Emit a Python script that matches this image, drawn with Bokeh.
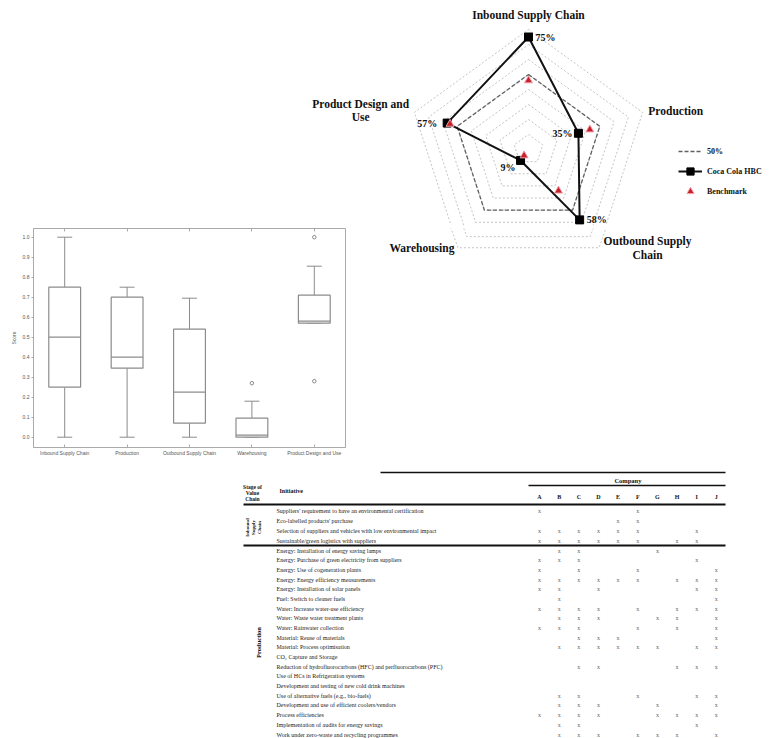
import math
from bokeh.plotting import figure
from bokeh.models import (Range1d, Legend, LegendItem, Spacer, FixedTicker, LinearAxis)
from bokeh.layouts import row, column
from bokeh.core.properties import value
from bokeh.embed import file_html
from bokeh.resources import INLINE

SERIF = "Liberation Serif"

# ---------------- data: radar ----------------
radar_categories = ["Inbound Supply Chain", "Production", "Outbound Supply\nChain",
                    "Warehousing", "Product Design and\nUse"]
coca_cola = [75, 35, 58, 9, 57]
coca_labels = ["75%", "35%", "58%", "9%", "57%"]
benchmark = [46, 43, 34, 5, 55]
threshold = [50, 50, 50, 50, 50]
ring_levels = [10, 20, 30, 40, 50, 60, 70, 80]
legend_labels = ["50%", "Coca Cola HBC", "Benchmark"]

# ---------------- data: box plot ----------------
box_cats = ["Inbound Supply Chain", "Production", "Outbound Supply Chain",
            "Warehousing", "Product Design and Use"]
box_low = [0.0, 0.0, 0.0, 0.0, 0.57]
box_q1 = [0.25, 0.345, 0.07, 0.0, 0.57]
box_median = [0.50, 0.40, 0.225, 0.01, 0.58]
box_q3 = [0.75, 0.70, 0.54, 0.095, 0.71]
box_high = [1.0, 0.75, 0.695, 0.18, 0.855]
outlier_cat = [4, 5, 5]
outlier_val = [0.27, 1.0, 0.28]
box_yticks = [0.0, 0.1, 0.2, 0.3, 0.4, 0.5, 0.6, 0.7, 0.8, 0.9, 1.0]
box_ylabel = "Score"

# ---------------- data: table ----------------
table_cols = ["A", "B", "C", "D", "E", "F", "G", "H", "I", "J"]
inbound_group = ["Inbound", "Supply", "Chain"]
inbound_rows = [
    "Suppliers' requirement to have an environmental certification",
    "Eco-labelled products' purchase",
    "Selection of suppliers and vehicles with low environmental impact",
    "Sustainable/green logistics with suppliers",
]
inbound_marks = ["A F", "E F", "A B C D E F I", "A B C D E F H I"]
production_group = "Production"
production_rows = [
    "Energy: Installation of energy saving lamps",
    "Energy: Purchase of green electricity from suppliers",
    "Energy: Use of cogeneration plants",
    "Energy: Energy efficiency measurements",
    "Energy: Installation of solar panels",
    "Fuel: Switch to cleaner fuels",
    "Water: Increase water-use efficiency",
    "Water: Waste water treatment plants",
    "Water: Rainwater collection",
    "Material: Reuse of materials",
    "Material: Process optimisation",
    "CO\u2082 Capture and Storage",
    "Reduction of hydrofluorocarbons (HFC) and perfluorocarbons (PFC)",
    "Use of HCs in Refrigeration systems",
    "Development and testing of new cold drink machines",
    "Use of alternative fuels (e.g., bio-fuels)",
    "Development and use of efficient coolers/vendors",
    "Process efficiencies",
    "Implementation of audits for energy savings",
    "Work under zero-waste and recycling programmes",
]
production_marks = [
    "B C G", "A B C I", "A C F J", "A B C D E F H I J", "A B D I J", "B J",
    "A B C D F H I J", "B C D G H J", "A B C F H J", "C D E J",
    "B C D E F G I J", "", "C D H I J", "", "", "B C F I J", "B C D G J",
    "A B C D G H I J", "B C I", "B C D F G H J",
]

# =============== page geometry (px) ===============
PAGE_W = 775
SPLIT_Y = 225            # radar top part above, box plot row below
BOX_W, ROW2_H = 348, 240
TABLE_Y = SPLIT_Y + ROW2_H
TABLE_X = 235
TABLE_H = 738 - TABLE_Y
RADA_X = 300

# =============== RADAR ===============
R_CX, R_CY, R_S = 528, 149, 1.5      # centre (page px) and px per percent
n = len(radar_categories)
angles = [math.pi / 2 - i * 2 * math.pi / n for i in range(n)]


def poly(vals, close=True):
    xs = [v * math.cos(a) for v, a in zip(vals, angles)]
    ys = [v * math.sin(a) for v, a in zip(vals, angles)]
    if close:
        xs, ys = xs + xs[:1], ys + ys[:1]
    return xs, ys


def radar_fig(x0, y0, w, h):
    f = figure(width=w, height=h,
               x_range=Range1d((x0 - R_CX) / R_S, (x0 + w - R_CX) / R_S),
               y_range=Range1d((R_CY - (y0 + h)) / R_S, (R_CY - y0) / R_S),
               x_axis_location=None, y_axis_location=None,
               output_backend="svg", toolbar_location=None, min_border=0)
    f.grid.visible = False
    f.outline_line_color = None

    def inside(yd):
        py_ = R_CY - yd * R_S
        return y0 <= py_ < y0 + h

    ring_xs, ring_ys = [], []
    for lv in ring_levels:
        xs, ys = poly([lv] * n)
        ring_xs.append(xs)
        ring_ys.append(ys)
    f.multi_line(ring_xs, ring_ys, line_color="#b5b5b5", line_width=0.8, line_dash="2 2")

    tx, ty = poly(threshold)
    thr_r = f.line(tx, ty, line_color="#606060", line_width=1.3, line_dash="4 2")

    cx, cy = poly(coca_cola)
    cc_line = f.line(cx, cy, line_color="#111111", line_width=2)
    px, py = poly(coca_cola, close=False)
    cc_pts = f.scatter(px, py, marker="square", size=8, fill_color="#000000",
                       line_color="#000000")

    bx_, by_ = poly(benchmark, close=False)
    bm_r = f.scatter(bx_, by_, marker="triangle", size=8, fill_color="#c8202a",
                     line_color="#f0a0a8", line_width=1)

    lab_dx = [4.7, -4.0, 4.7, -3.3, -6.7]
    lab_dy = [0, 0, 0, -4.7, 0]
    lab_align = ["left", "right", "left", "right", "right"]
    lx = [x + d for x, d in zip(px, lab_dx)]
    ly = [y + d for y, d in zip(py, lab_dy)]
    keep = [i for i in range(n) if inside(ly[i])]
    if keep:
        f.text(x=[lx[i] for i in keep], y=[ly[i] for i in keep],
               text=[coca_labels[i] for i in keep],
               text_align=[lab_align[i] for i in keep], text_baseline="middle",
               text_font=value(SERIF), text_font_style="bold", text_font_size="10px",
               text_color="#111111")

    cat_r = 84
    cat_dx = [0, 0, 30, 0, -32]
    cat_dy = [5.5, 0, 3, 0, 0]
    cat_dy[3] = 3
    cat_align = ["center", "left", "center", "right", "center"]
    gx = [cat_r * math.cos(a) + d for a, d in zip(angles, cat_dx)]
    gy = [cat_r * math.sin(a) + d for a, d in zip(angles, cat_dy)]
    keep = [i for i in range(n) if inside(gy[i])]
    if keep:
        f.text(x=[gx[i] for i in keep], y=[gy[i] for i in keep],
               text=[radar_categories[i] for i in keep],
               text_align=[cat_align[i] for i in keep], text_baseline="middle",
               text_font=value(SERIF), text_font_style="bold", text_font_size="11.5px",
               text_color="#111111", text_line_height=1.15)
    return f, thr_r, cc_line, cc_pts, bm_r


radA, thr_r, cc_line, cc_pts, bm_r = radar_fig(RADA_X, 0, PAGE_W - RADA_X, SPLIT_Y)
radB = radar_fig(BOX_W, SPLIT_Y, PAGE_W - BOX_W, ROW2_H)[0]

LEG_TOP = 142
leg = Legend(items=[LegendItem(label=legend_labels[0], renderers=[thr_r]),
                    LegendItem(label=legend_labels[1], renderers=[cc_line, cc_pts]),
                    LegendItem(label=legend_labels[2], renderers=[bm_r])],
             location=(678 - RADA_X, SPLIT_Y - (LEG_TOP + 58)), orientation="vertical",
             border_line_color=None, background_fill_alpha=0, padding=0, margin=0,
             spacing=2, glyph_width=24, glyph_height=18, label_height=18,
             label_standoff=5, label_text_font=SERIF, label_text_font_style="bold",
             label_text_font_size="8px", label_text_color="#111111")
radA.add_layout(leg)

# =============== BOX PLOT ===============
box_x = [i + 1 for i in range(len(box_cats))]
GREY = "#8c8c8c"
bp = figure(width=BOX_W, height=ROW2_H, x_range=Range1d(0.5, len(box_cats) + 0.5),
            y_range=Range1d(-0.0515, 1.0435), output_backend="svg",
            toolbar_location=None, min_border_left=33, min_border_right=3,
            min_border_top=3, min_border_bottom=18)
bp.grid.visible = False
bp.outline_line_color = "#aaaaaa"

bp.segment(x0=box_x, y0=box_q3, x1=box_x, y1=box_high, line_color=GREY, line_width=1)
bp.segment(x0=box_x, y0=box_low, x1=box_x, y1=box_q1, line_color=GREY, line_width=1)
bp.segment(x0=[x - 0.12 for x in box_x], y0=box_high, x1=[x + 0.12 for x in box_x],
           y1=box_high, line_color=GREY, line_width=1)
bp.segment(x0=[x - 0.12 for x in box_x], y0=box_low, x1=[x + 0.12 for x in box_x],
           y1=box_low, line_color=GREY, line_width=1)
bp.vbar(x=box_x, bottom=box_q1, top=box_q3, width=0.51, fill_color="white",
        line_color=GREY, line_width=1.2)
bp.segment(x0=[x - 0.255 for x in box_x], y0=box_median, x1=[x + 0.255 for x in box_x],
           y1=box_median, line_color=GREY, line_width=1.2)
bp.scatter(outlier_cat, outlier_val, marker="circle", size=3.5, fill_color=None,
           line_color=GREY)

bp.xaxis.ticker = FixedTicker(ticks=box_x)
bp.xaxis.major_label_overrides = {x: c for x, c in zip(box_x, box_cats)}
bp.xaxis.major_label_text_font_size = "5px"
bp.xaxis.major_tick_in = 3
bp.xaxis.major_tick_out = 0
bp.xaxis.major_label_standoff = 2
bp.yaxis.ticker = FixedTicker(ticks=box_yticks)
bp.yaxis.major_label_overrides = {t: f"{t:.1f}" for t in box_yticks}
bp.yaxis.major_label_text_font_size = "5px"
bp.yaxis.major_tick_out = 2
bp.yaxis.major_tick_in = 0
bp.yaxis.major_label_standoff = 2
bp.yaxis.axis_label = box_ylabel
bp.yaxis.axis_label_text_font_size = "5px"
bp.yaxis.axis_label_text_font_style = "normal"
bp.yaxis.axis_label_standoff = 3
for ax in (bp.xaxis[0], bp.yaxis[0]):
    ax.minor_tick_line_color = None
    ax.axis_line_color = "#aaaaaa"
    ax.major_tick_line_color = "#aaaaaa"
    ax.major_label_text_color = "#555555"
    ax.major_label_text_font = "Liberation Sans"
bp.yaxis.axis_label_text_color = "#555555"
top_ax = LinearAxis(ticker=FixedTicker(ticks=box_x),
                    major_label_overrides={x: "" for x in box_x},
                    major_label_text_font_size="5px",
                    major_tick_in=3, major_tick_out=0, minor_tick_line_color=None,
                    axis_line_color="#aaaaaa", major_tick_line_color="#aaaaaa",
                    major_label_standoff=0)
bp.add_layout(top_ax, "above")

# =============== TABLE ===============
TW = PAGE_W - TABLE_X
tb = figure(width=TW, height=TABLE_H, x_range=Range1d(TABLE_X, TABLE_X + TW),
            y_range=Range1d(TABLE_Y + TABLE_H, TABLE_Y), x_axis_location=None,
            y_axis_location=None, output_backend="svg", toolbar_location=None,
            min_border=0)
tb.grid.visible = False
tb.outline_line_color = None

COL_X0, COL_DX = 539, 19.65
col_x = [COL_X0 + j * COL_DX for j in range(len(table_cols))]
RIGHT = 725
TEXT_X = 276
in_y = [510 + 10.2 * i for i in range(len(inbound_rows))]
pr_step = (734 - 550) / (len(production_rows) - 1)
pr_y = [550 + pr_step * i for i in range(len(production_rows))]

tb.segment(x0=[380, 528, 243, 243], y0=[472, 485, 504, 545],
           x1=[RIGHT, RIGHT, RIGHT, RIGHT], y1=[472, 485, 504, 545],
           line_color="#111111", line_width=[1.3, 1.3, 2, 2])

tb.text(x=[(col_x[0] + col_x[-1]) / 2], y=[480], text=["Company"], text_align="center",
        text_baseline="middle", text_font=value(SERIF), text_font_style="bold",
        text_font_size="6.5px", text_color="#111111")
tb.text(x=col_x, y=[496] * len(col_x), text=table_cols, text_align="center",
        text_baseline="middle", text_font=value(SERIF), text_font_style="bold",
        text_font_size="6px", text_color="#111111")
tb.text(x=[252], y=[492], text=["Stage of\nValue\nChain"], text_align="center",
        text_baseline="middle", text_font=value(SERIF), text_font_style="bold",
        text_font_size="5.5px", text_color="#111111", text_line_height=1.0)
tb.text(x=[TEXT_X + 3], y=[490], text=["Initiative"], text_align="left",
        text_baseline="middle", text_font=value(SERIF), text_font_style="bold",
        text_font_size="6px", text_color="#111111")

tb.text(x=[247, 253, 259], y=[527] * 3, text=inbound_group, angle=math.pi / 2,
        text_align="center", text_baseline="middle", text_font=value(SERIF),
        text_font_style="bold", text_font_size="5px", text_color="#111111")
tb.text(x=[258], y=[(pr_y[0] + pr_y[-1]) / 2], text=[production_group], angle=math.pi / 2,
        text_align="center", text_baseline="middle", text_font=value(SERIF),
        text_font_style="bold", text_font_size="6.5px", text_color="#111111")

tb.text(x=[TEXT_X] * (len(inbound_rows) + len(production_rows)), y=in_y + pr_y,
        text=inbound_rows + production_rows, text_align="left", text_baseline="middle",
        text_font=value(SERIF), text_font_size="6px", text_color="#222222")

mx, my = [], []
for ys, marks in ((in_y, inbound_marks), (pr_y, production_marks)):
    for yv, mk in zip(ys, marks):
        for letter in mk.split():
            mx.append(col_x[table_cols.index(letter)])
            my.append(yv)
tb.text(x=mx, y=my, text=["x"] * len(mx), text_align="center", text_baseline="middle",
        text_font=value(SERIF), text_font_size="6px", text_color="#666666")

# =============== LAYOUT ===============
layout = column(
    row(Spacer(width=RADA_X, height=SPLIT_Y), radA),
    row(bp, radB),
    row(Spacer(width=TABLE_X, height=TABLE_H), tb),
)

open("out.html", "w").write(file_html(layout, INLINE))
